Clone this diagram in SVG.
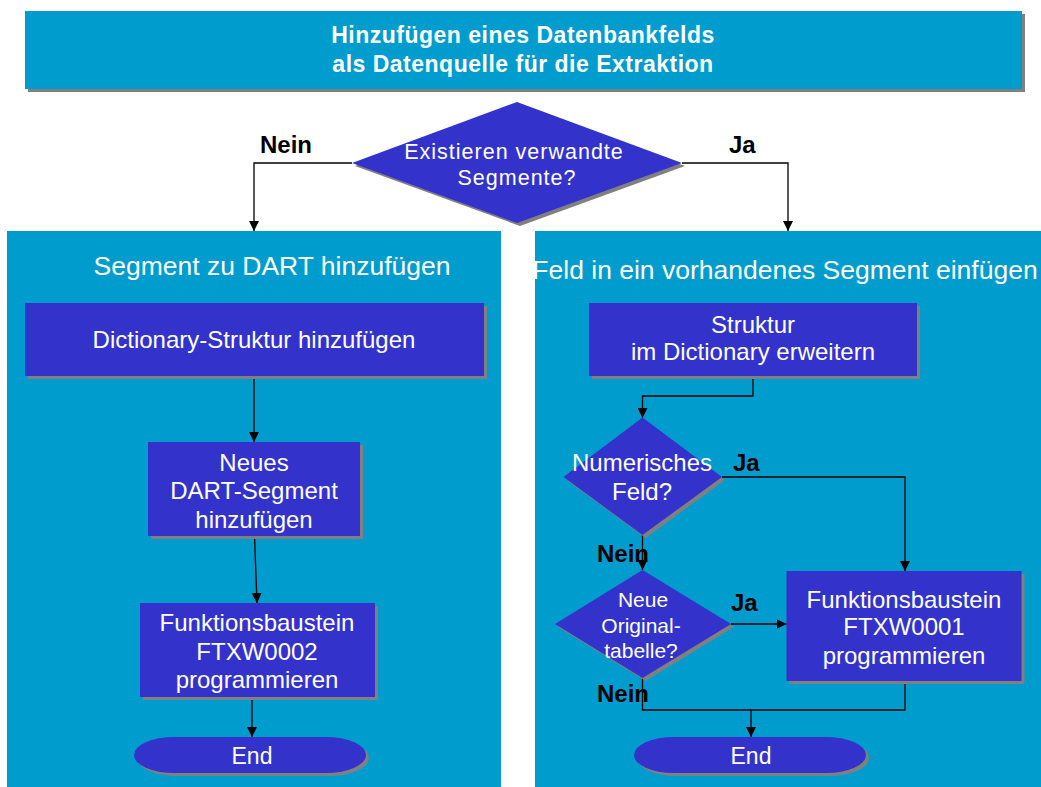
<svg xmlns="http://www.w3.org/2000/svg" width="1041" height="787" viewBox="0 0 1041 787">
  <defs>
    <marker id="arrow" viewBox="0 0 10 10" refX="10" refY="5" markerWidth="10" markerHeight="10" markerUnits="userSpaceOnUse" orient="auto">
      <path d="M0,0 L10,5 L0,10 z" fill="#000"/>
    </marker>
    <style>
      .panel { fill: #009CCD; }
      .node { fill: #3333CC; }
      .shadow { fill: #808080; }
      .txt { font-family: "Liberation Sans", Arial, sans-serif; fill: #fff; text-anchor: middle; }
      .lbl { font-family: "Liberation Sans", Arial, sans-serif; fill: #000; font-weight: bold; font-size: 24px; }
      .conn { fill: none; stroke: #000; stroke-width: 1.3; }
    </style>
  </defs>

  <rect width="1041" height="787" fill="#fff"/>

  <!-- header banner -->
  <g id="title">
    <rect class="shadow" x="28" y="14" width="997" height="78"/>
    <rect class="panel" x="25" y="11" width="997" height="78"/>
    <text class="txt" x="523" y="43" font-size="23" font-weight="bold" letter-spacing="0.5">Hinzufügen eines Datenbankfelds</text>
    <text class="txt" x="523" y="72" font-size="23" font-weight="bold" letter-spacing="0.5">als Datenquelle für die Extraktion</text>
  </g>

  <!-- swimlane panels -->
  <g id="panel-left">
    <rect class="panel" x="7" y="231" width="494" height="556"/>
    <text class="txt" x="272" y="275" font-size="26.5">Segment zu DART hinzufügen</text>
  </g>
  <g id="panel-right">
    <rect class="panel" x="535" y="231" width="506" height="556"/>
    <text class="txt" x="785" y="279" font-size="26.5">Feld in ein vorhandenes Segment einfügen</text>
  </g>

  <!-- connectors -->
  <g id="connectors">
    <polyline class="conn" points="352,163 254,163 254,231" marker-end="url(#arrow)"/>
    <polyline class="conn" points="682,163 788,163 788,231" marker-end="url(#arrow)"/>

    <line class="conn" x1="254" y1="376" x2="254" y2="442" marker-end="url(#arrow)"/>
    <line class="conn" x1="254.5" y1="536" x2="257" y2="603" marker-end="url(#arrow)"/>
    <line class="conn" x1="252" y1="697" x2="252" y2="737" marker-end="url(#arrow)"/>

    <polyline class="conn" points="753,376 753,396 642.5,396 642.5,418" marker-end="url(#arrow)"/>
    <polyline class="conn" points="722,477 905,477 905,571" marker-end="url(#arrow)"/>
    <line class="conn" x1="642.5" y1="535" x2="642.5" y2="570" marker-end="url(#arrow)"/>
    <line class="conn" x1="731" y1="624" x2="786.5" y2="624" marker-end="url(#arrow)"/>
    <polyline class="conn" points="642.5,678 642.5,710 905,710 905,681"/>
    <line class="conn" x1="751" y1="710" x2="751" y2="737" marker-end="url(#arrow)"/>

    <text class="lbl" x="260" y="153">Nein</text>
    <text class="lbl" x="729" y="153">Ja</text>
    <text class="lbl" x="733" y="471">Ja</text>
    <text class="lbl" x="597" y="562">Nein</text>
    <text class="lbl" x="731" y="611">Ja</text>
    <text class="lbl" x="597" y="702">Nein</text>
  </g>

  <!-- decision: related segments -->
  <g id="d-segmente">
    <polygon class="shadow" points="520,105 685,166 520,226 355,166"/>
    <polygon class="node" points="517,102 682,163 517,223 352,163"/>
    <text class="txt" x="514" y="158.5" font-size="21.5" letter-spacing="1">Existieren verwandte</text>
    <text class="txt" x="517" y="185" font-size="21.5" letter-spacing="1">Segmente?</text>
  </g>

  <!-- left lane -->
  <g id="n-dict-struktur">
    <rect class="shadow" x="28" y="306" width="459" height="73"/>
    <rect class="node" x="25" y="303" width="459" height="73"/>
    <text class="txt" x="254" y="348" font-size="24">Dictionary-Struktur hinzufügen</text>
  </g>
  <g id="n-dart-segment">
    <rect class="shadow" x="151" y="445" width="212" height="94"/>
    <rect class="node" x="148" y="442" width="212" height="94"/>
    <text class="txt" x="254" y="470.5" font-size="24">Neues</text>
    <text class="txt" x="254" y="499" font-size="24">DART-Segment</text>
    <text class="txt" x="254" y="527.5" font-size="24">hinzufügen</text>
  </g>
  <g id="n-ftxw0002">
    <rect class="shadow" x="143" y="606" width="235" height="94"/>
    <rect class="node" x="140" y="603" width="235" height="94"/>
    <text class="txt" x="257" y="631" font-size="24">Funktionsbaustein</text>
    <text class="txt" x="257" y="659.5" font-size="24">FTXW0002</text>
    <text class="txt" x="257" y="688" font-size="24">programmieren</text>
  </g>
  <g id="end-left">
    <rect class="shadow" x="137" y="740" width="232" height="36" rx="40" ry="18"/>
    <rect class="node" x="134" y="737" width="232" height="36" rx="40" ry="18"/>
    <text class="txt" x="252" y="764" font-size="23">End</text>
  </g>

  <!-- right lane -->
  <g id="n-struktur-erweitern">
    <rect class="shadow" x="592" y="306" width="328" height="73"/>
    <rect class="node" x="589" y="303" width="328" height="73"/>
    <text class="txt" x="753" y="333" font-size="24">Struktur</text>
    <text class="txt" x="753" y="360" font-size="24">im Dictionary erweitern</text>
  </g>
  <g id="d-numerisch">
    <polygon class="shadow" points="645.5,420.5 725,480 645.5,538 566.5,480"/>
    <polygon class="node" points="642.5,417.5 722,477 642.5,535 563.5,477"/>
    <text class="txt" x="642" y="471" font-size="24">Numerisches</text>
    <text class="txt" x="642" y="500" font-size="24">Feld?</text>
  </g>
  <g id="d-originaltabelle">
    <polygon class="shadow" points="645.5,573 734,627 645.5,681 558,627"/>
    <polygon class="node" points="642.5,570 731,624 642.5,678 555,624"/>
    <text class="txt" x="643" y="607" font-size="21">Neue</text>
    <text class="txt" x="641" y="633" font-size="21">Original-</text>
    <text class="txt" x="641" y="658" font-size="21">tabelle?</text>
  </g>
  <g id="n-ftxw0001">
    <rect class="shadow" x="789.5" y="574" width="235" height="110"/>
    <rect class="node" x="786.5" y="571" width="235" height="110"/>
    <text class="txt" x="904" y="608" font-size="24">Funktionsbaustein</text>
    <text class="txt" x="904" y="635" font-size="24">FTXW0001</text>
    <text class="txt" x="904" y="664" font-size="24">programmieren</text>
  </g>
  <g id="end-right">
    <rect class="shadow" x="637" y="740" width="232" height="36" rx="40" ry="18"/>
    <rect class="node" x="634" y="737" width="232" height="36" rx="40" ry="18"/>
    <text class="txt" x="751" y="764" font-size="23">End</text>
  </g>
</svg>
